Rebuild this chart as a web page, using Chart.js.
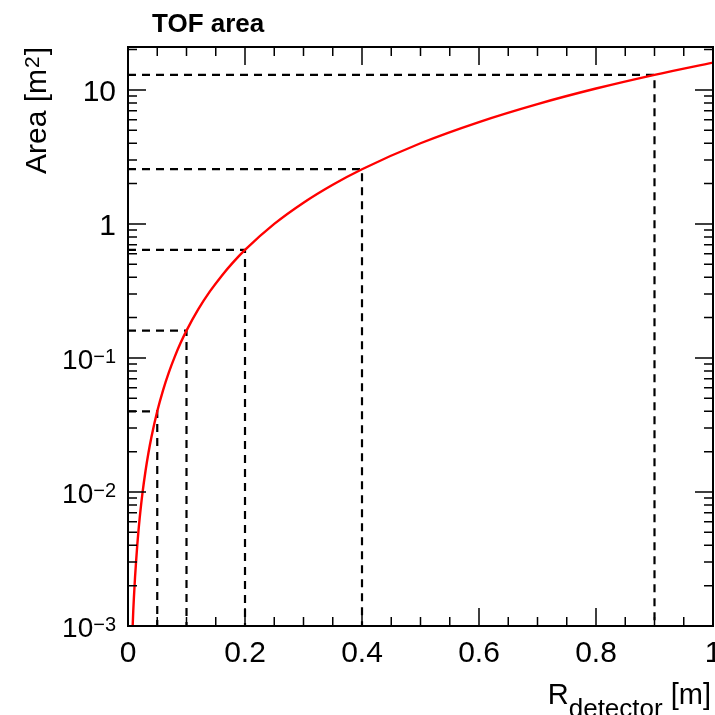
<!DOCTYPE html>
<html>
<head>
<meta charset="utf-8">
<script src="https://cdn.jsdelivr.net/npm/chart.js@4.4.1/dist/chart.umd.min.js"></script>
<style>
    html, body { margin: 0; padding: 0; background: #fff; }
</style>
</head>
<body>
<canvas id="tofChart" width="715" height="715"></canvas>
<script>
// Curve: detector radius [m] vs area [m^2]
const radius = [0.008, 0.009, 0.01, 0.012, 0.014, 0.016, 0.018, 0.02, 0.025, 0.03, 0.035, 0.04,
    0.05, 0.06, 0.07, 0.08, 0.09, 0.1, 0.12, 0.14, 0.16, 0.18, 0.2, 0.25, 0.3, 0.35, 0.4,
    0.5, 0.6, 0.7, 0.8, 0.9, 1.0];
const area = [0.001, 0.0013, 0.0016, 0.0023, 0.0031, 0.0041, 0.0052, 0.0064, 0.01, 0.0144, 0.0196, 0.0256,
    0.04, 0.0576, 0.0784, 0.1024, 0.1296, 0.16, 0.2304, 0.3136, 0.4096, 0.5184, 0.64, 1.0, 1.44, 1.96, 2.56,
    4.0, 5.76, 7.84, 10.24, 12.96, 16.0];

// Dashed guide lines
const markRadius = [0.05, 0.1, 0.2, 0.4, 0.9];
const markArea = [0.04, 0.16, 0.64, 2.56, 12.96];

// Axis ticks and labels
const xMajorTicks = [0, 0.2, 0.4, 0.6, 0.8, 1];
const xTickLabels = ['0', '0.2', '0.4', '0.6', '0.8', '1'];
const yMajorTicks = [0.001, 0.01, 0.1, 1, 10];
const yTickLabels = [['10', '\u22123'], ['10', '\u22122'], ['10', '\u22121'], ['1', ''], ['10', '']];

const xMin = 0, xMax = 1;
const yMin = 0.001, yMax = 20.9;
const FONT = '"Liberation Sans", Helvetica, Arial, sans-serif';

// Draw frame, inward ticks, labels and titles like a ROOT canvas
const rootFrame = {
    id: 'rootFrame',
    afterDraw(chart) {
        const ctx = chart.ctx;
        const area = chart.chartArea;
        const xs = chart.scales.x;
        const ys = chart.scales.y;

        ctx.save();
        ctx.strokeStyle = '#000';
        ctx.fillStyle = '#000';

        // ticks
        ctx.lineWidth = 1.5;
        ctx.beginPath();
        for (let i = 0; i <= 20; i++) {
            const v = i * 0.05;
            const px = xs.getPixelForValue(v);
            const len = (i % 4 === 0) ? 18 : 9;
            ctx.moveTo(px, area.bottom); ctx.lineTo(px, area.bottom - len);
            ctx.moveTo(px, area.top); ctx.lineTo(px, area.top + len);
        }
        for (let d = 0.001; d < yMax; d *= 10) {
            for (let k = 1; k <= 9; k++) {
                const v = k * d;
                if (v > yMax * 1.0001) break;
                const py = ys.getPixelForValue(v);
                const len = (k === 1) ? 18 : 9;
                ctx.moveTo(area.left, py); ctx.lineTo(area.left + len, py);
                ctx.moveTo(area.right, py); ctx.lineTo(area.right - len, py);
            }
        }
        ctx.stroke();

        // frame
        ctx.lineWidth = 2;
        ctx.strokeRect(area.left, area.top, area.right - area.left, area.bottom - area.top);

        // x tick labels
        ctx.font = '30px ' + FONT;
        ctx.textAlign = 'center';
        ctx.textBaseline = 'alphabetic';
        xMajorTicks.forEach((v, i) => {
            ctx.fillText(xTickLabels[i], xs.getPixelForValue(v), 662);
        });

        // y tick labels with exponents
        yMajorTicks.forEach((v, i) => {
            const py = ys.getPixelForValue(v);
            const [base, exp] = yTickLabels[i];
            let right = 116;
            ctx.textAlign = 'right';
            if (exp) {
                ctx.font = '20px ' + FONT;
                ctx.fillText(exp, right, py + 5);
                right -= ctx.measureText(exp).width;
                ctx.font = '28px ' + FONT;
                ctx.fillText(base, right, py + 11);
            } else {
                ctx.font = '30px ' + FONT;
                ctx.fillText(base, right, py + 11);
            }
        });

        // title
        ctx.textAlign = 'left';
        ctx.font = 'bold 26px ' + FONT;
        ctx.fillText('TOF area', 152, 32);

        // x axis title: R_detector [m]
        const mainFont = '29px ' + FONT;
        const subFont = '26px ' + FONT;
        ctx.font = mainFont;
        const wR = ctx.measureText('R').width;
        const wTail = ctx.measureText(' [m]').width;
        ctx.font = subFont;
        const wSub = ctx.measureText('detector').width;
        let x0 = 711 - (wR + wSub + wTail);
        ctx.font = mainFont;
        ctx.fillText('R', x0, 704);
        ctx.font = subFont;
        ctx.fillText('detector', x0 + wR, 717);
        ctx.font = mainFont;
        ctx.fillText(' [m]', x0 + wR + wSub, 704);

        // y axis title: Area [m^2], rotated
        const yFont = '30px ' + FONT;
        const supFont = '21px ' + FONT;
        ctx.translate(46, 47);
        ctx.rotate(-Math.PI / 2);
        ctx.font = yFont;
        const wA = ctx.measureText('Area [m').width;
        const wB = ctx.measureText(']').width;
        ctx.font = supFont;
        const w2 = ctx.measureText('2').width;
        let y0 = -(wA + w2 + wB + 2);
        ctx.font = yFont;
        ctx.fillText('Area [m', y0, 0);
        ctx.font = supFont;
        ctx.fillText('2', y0 + wA + 1, -7);
        ctx.font = yFont;
        ctx.fillText(']', y0 + wA + w2 + 2, 0);

        ctx.restore();
    }
};

function buildDatasets() {
    const datasets = [{
        label: 'area',
        data: radius.map((r, i) => ({ x: r, y: area[i] })),
        borderColor: '#ff0000',
        borderWidth: 2.4,
        pointRadius: 0,
        cubicInterpolationMode: 'monotone',
        fill: false
    }];
    markRadius.forEach((r, i) => {
        datasets.push({
            label: 'mark' + i,
            data: [{ x: xMin, y: markArea[i] }, { x: r, y: markArea[i] }, { x: r, y: yMin }],
            borderColor: '#000',
            borderWidth: 2.2,
            borderDash: [8, 6],
            pointRadius: 0,
            tension: 0,
            fill: false
        });
    });
    return datasets;
}

const ctx = document.getElementById('tofChart').getContext('2d');
new Chart(ctx, {
    type: 'line',
    data: { datasets: buildDatasets() },
    options: {
        responsive: false,
        animation: false,
        devicePixelRatio: 1,
        layout: { padding: { left: 128, top: 47, right: 2, bottom: 89 } },
        plugins: {
            legend: { display: false },
            tooltip: { enabled: false }
        },
        scales: {
            x: { type: 'linear', min: xMin, max: xMax, display: false },
            y: { type: 'logarithmic', min: yMin, max: yMax, display: false }
        }
    },
    plugins: [rootFrame]
});
</script>
</body>
</html>
